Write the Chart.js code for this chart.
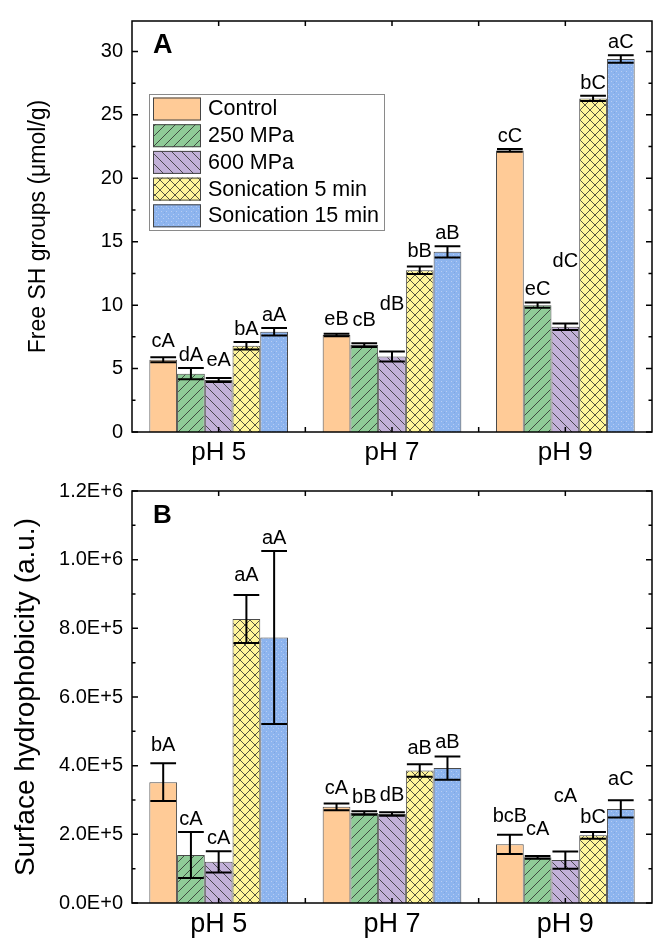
<!DOCTYPE html>
<html>
<head>
<meta charset="utf-8">
<script src="https://cdn.jsdelivr.net/npm/chart.js@4.4.1/dist/chart.umd.min.js"></script>
<style>
  body { margin: 0; background: #fff; }
  .panel { position: absolute; left: 0; width: 654px; height: 470px; }
</style>
</head>
<body>
<div class="panel" style="top:0"><canvas id="shChart" width="654" height="470"></canvas></div>
<div class="panel" style="top:470px"><canvas id="hydroChart" width="654" height="470"></canvas></div>
<script>
const phLabels = ['pH 5', 'pH 7', 'pH 9'];
const treatments = ['Control', '250 MPa', '600 MPa', 'Sonication 5 min', 'Sonication 15 min'];

// A - free SH groups (umol/g), mean and sd for pH 5 / 7 / 9
const shControl = [5.7, 7.65, 22.2];
const sh250 = [4.6, 6.85, 10.0];
const sh600 = [4.1, 5.95, 8.3];
const shSon5 = [6.8, 12.75, 26.3];
const shSon15 = [7.9, 14.2, 29.4];
const shControlErr = [0.2, 0.1, 0.1];
const sh250Err = [0.45, 0.15, 0.2];
const sh600Err = [0.15, 0.4, 0.25];
const shSon5Err = [0.3, 0.3, 0.2];
const shSon15Err = [0.3, 0.45, 0.3];
const shControlTxt = ['cA', 'eB', 'cC'];
const sh250Txt = ['dA', 'cB', 'eC'];
const sh600Txt = ['eA', 'dB', 'dC'];
const shSon5Txt = ['bA', 'bB', 'bC'];
const shSon15Txt = ['aA', 'aB', 'aC'];

// B - surface hydrophobicity (a.u.)
const hyControl = [352000, 280000, 171000];
const hy250 = [140000, 262000, 133000];
const hy600 = [120000, 259000, 125000];
const hySon5 = [827000, 386000, 197000];
const hySon15 = [773000, 393000, 274000];
const hyControlErr = [55000, 10000, 28000];
const hy250Err = [67000, 5000, 4000];
const hy600Err = [31000, 5000, 25000];
const hySon5Err = [70000, 18000, 10000];
const hySon15Err = [252000, 34000, 25000];
const hyControlTxt = ['bA', 'cA', 'bcB'];
const hy250Txt = ['cA', 'bB', 'cA'];
const hy600Txt = ['cA', 'dB', 'cA'];
const hySon5Txt = ['aA', 'aB', 'bC'];
const hySon15Txt = ['aA', 'aB', 'aC'];

const FONT = '"Liberation Sans", Arial, sans-serif';

// fill patterns for the bars
function tile(bg, draw) {
  const c = document.createElement('canvas');
  c.width = 10; c.height = 10;
  const g = c.getContext('2d');
  g.fillStyle = bg;
  g.fillRect(0, 0, 10, 10);
  g.strokeStyle = '#2b2b2b';
  g.lineWidth = 0.8;
  draw(g);
  return g.createPattern(c, 'repeat');
}
function up(g) {
  g.beginPath();
  g.moveTo(0, 10); g.lineTo(10, 0);
  g.moveTo(-1, 1); g.lineTo(1, -1);
  g.moveTo(9, 11); g.lineTo(11, 9);
  g.stroke();
}
function down(g) {
  g.beginPath();
  g.moveTo(0, 0); g.lineTo(10, 10);
  g.moveTo(-1, 9); g.lineTo(1, 11);
  g.moveTo(9, -1); g.lineTo(11, 1);
  g.stroke();
}
function dots(g) {
  g.fillStyle = '#b7cdf3';
  g.fillRect(1, 1, 1, 1); g.fillRect(6, 1, 1, 1);
  g.fillRect(3, 4, 1, 1); g.fillRect(8, 4, 1, 1);
  g.fillRect(1, 6, 1, 1); g.fillRect(6, 6, 1, 1);
  g.fillRect(3, 8, 1, 1); g.fillRect(8, 8, 1, 1);
  g.fillStyle = '#7fa5e2';
  g.fillRect(4, 2, 1, 1); g.fillRect(9, 7, 1, 1);
}
const fills = [
  '#ffcb97',
  tile('#8fcb97', up),
  tile('#c2b1d8', down),
  tile('#fff59a', g => { up(g); down(g); }),
  tile('#8db4ee', dots)
];

const errorBars = {
  id: 'errorBars',
  afterDatasetsDraw(chart, args, opts) {
    const ctx = chart.ctx;
    const y = chart.scales.y;
    ctx.save();
    chart.data.datasets.forEach((ds, i) => {
      chart.getDatasetMeta(i).data.forEach((bar, j) => {
        const v = ds.data[j], e = ds.errors[j];
        const top = y.getPixelForValue(v + e);
        const bot = y.getPixelForValue(v - e);
        const half = bar.width / 2 - 1;
        ctx.strokeStyle = '#000';
        ctx.lineWidth = 2;
        ctx.beginPath();
        ctx.moveTo(bar.x, top); ctx.lineTo(bar.x, bot);
        ctx.moveTo(bar.x - half, top); ctx.lineTo(bar.x + half, top);
        ctx.moveTo(bar.x - half, bot); ctx.lineTo(bar.x + half, bot);
        ctx.stroke();
        ctx.fillStyle = '#000';
        ctx.font = opts.font;
        ctx.textAlign = 'center';
        ctx.textBaseline = 'alphabetic';
        ctx.fillText(ds.letters[j], bar.x, top - 7 - opts.lift[i][j]);
      });
    });
    ctx.restore();
  }
};

const frame = {
  id: 'frame',
  afterDatasetsDraw(chart, args, opts) {
    const { ctx, chartArea: a, scales: { x, y } } = chart;
    ctx.save();
    ctx.strokeStyle = '#000';
    ctx.lineWidth = 1.5;
    ctx.strokeRect(a.left, a.top, a.right - a.left, a.bottom - a.top);
    ctx.beginPath();
    for (let k = 0; k * opts.step / 2 <= y.max; k++) {
      const py = y.getPixelForValue(k * opts.step / 2);
      const len = k % 2 === 0 ? 6 : 3.5;
      ctx.moveTo(a.left, py); ctx.lineTo(a.left + len, py);
      ctx.moveTo(a.right, py); ctx.lineTo(a.right - len, py);
    }
    const n = x.ticks.length * 2;
    for (let k = 1; k < n; k++) {
      const px = a.left + (a.right - a.left) * k / n;
      ctx.moveTo(px, a.top); ctx.lineTo(px, a.top + 5);
      ctx.moveTo(px, a.bottom); ctx.lineTo(px, a.bottom - 5);
    }
    ctx.stroke();

    // panel letter
    ctx.fillStyle = '#000';
    ctx.font = 'bold ' + opts.letterSize + 'px ' + FONT;
    ctx.textAlign = 'left';
    ctx.textBaseline = 'alphabetic';
    ctx.fillText(opts.letter, a.left + 21, a.top + opts.letterSize * 0.75 + 12);

    // boxed legend
    if (opts.legend) {
      const lx = a.left + 17, ly = a.top + 73;
      ctx.lineWidth = 1;
      ctx.strokeStyle = '#8a8a8a';
      ctx.strokeRect(lx + 0.5, ly + 0.5, 235, 136);
      ctx.font = '21.5px ' + FONT;
      ctx.textBaseline = 'middle';
      chart.data.datasets.forEach((ds, i) => {
        const ry = ly + 3.5 + i * 26.7;
        ctx.fillStyle = ds.backgroundColor;
        ctx.fillRect(lx + 4, ry, 48, 23);
        ctx.strokeStyle = '#444';
        ctx.strokeRect(lx + 4.5, ry + 0.5, 47, 22);
        ctx.fillStyle = '#000';
        ctx.fillText(ds.label, lx + 59, ry + 12);
      });
    }
    ctx.restore();
  }
};

function sci(v) {
  if (v === 0) return '0.0E+0';
  const p = Math.floor(Math.log10(v) + 1e-9);
  return (v / Math.pow(10, p)).toFixed(1) + 'E+' + p;
}

function makeChart(id, sets, opt) {
  return new Chart(document.getElementById(id), {
    type: 'bar',
    data: {
      labels: phLabels,
      datasets: sets.map((s, i) => ({
        label: treatments[i],
        data: s[0],
        errors: s[1],
        letters: s[2],
        backgroundColor: fills[i],
        borderColor: '#4a4a4a',
        borderWidth: 1,
        categoryPercentage: 0.8,
        barPercentage: 1.0
      }))
    },
    options: {
      responsive: false,
      animation: false,
      devicePixelRatio: 1,
      layout: { padding: { top: opt.top, right: 2, left: 0, bottom: 0 } },
      plugins: {
        legend: { display: false },
        tooltip: { enabled: false },
        errorBars: { font: opt.labelFont + 'px ' + FONT, lift: opt.lift },
        frame: { step: opt.step, letter: opt.letter, letterSize: opt.letterSize, legend: opt.legend }
      },
      scales: {
        x: {
          grid: { display: false, drawTicks: false },
          border: { display: false },
          ticks: { color: '#000', font: { family: FONT, size: opt.catSize }, padding: 5 },
          afterFit(scale) { scale.height = opt.xHeight; }
        },
        y: {
          min: 0,
          max: opt.max,
          grid: { display: false, drawTicks: false },
          border: { display: false },
          ticks: {
            stepSize: opt.step,
            color: '#000',
            padding: 9,
            font: { family: FONT, size: opt.tickSize },
            callback: opt.fmt
          },
          afterBuildTicks(scale) {
            scale.ticks = scale.ticks.filter(t => Math.abs(t.value / opt.step - Math.round(t.value / opt.step)) < 1e-6);
          },
          title: {
            display: true,
            text: opt.title,
            color: '#000',
            font: { family: FONT, size: opt.titleSize },
            padding: { top: opt.titlePad, bottom: 0 }
          },
          afterFit(scale) { scale.width = 132; }
        }
      }
    },
    plugins: [errorBars, frame]
  });
}

makeChart('shChart', [
  [shControl, shControlErr, shControlTxt],
  [sh250, sh250Err, sh250Txt],
  [sh600, sh600Err, sh600Txt],
  [shSon5, shSon5Err, shSon5Txt],
  [shSon15, shSon15Err, shSon15Txt]
], {
  top: 14, xHeight: 38, max: 32.4, step: 5,
  fmt: v => String(v),
  title: 'Free SH groups (μmol/g)', titleSize: 23, titlePad: 25,
  tickSize: 20, catSize: 26, labelFont: 20,
  letter: 'A', letterSize: 27, legend: true,
  lift: [[3, 2, 0], [0, 10, 1], [5, 34, 50], [0, 2, 0], [0, 0, 0]]
});

makeChart('hydroChart', [
  [hyControl, hyControlErr, hyControlTxt],
  [hy250, hy250Err, hy250Txt],
  [hy600, hy600Err, hy600Txt],
  [hySon5, hySon5Err, hySon5Txt],
  [hySon15, hySon15Err, hySon15Txt]
], {
  top: 15, xHeight: 37, max: 1200000, step: 200000,
  fmt: v => sci(v),
  title: 'Surface hydrophobicity (a.u.)', titleSize: 28, titlePad: 9,
  tickSize: 20, catSize: 27, labelFont: 20,
  letter: 'B', letterSize: 26, legend: false,
  lift: [[5, 2, 6], [0, 1, 14], [0, 4, 43], [7, 3, 2], [0, 1, 8]]
});
</script>
</body>
</html>
